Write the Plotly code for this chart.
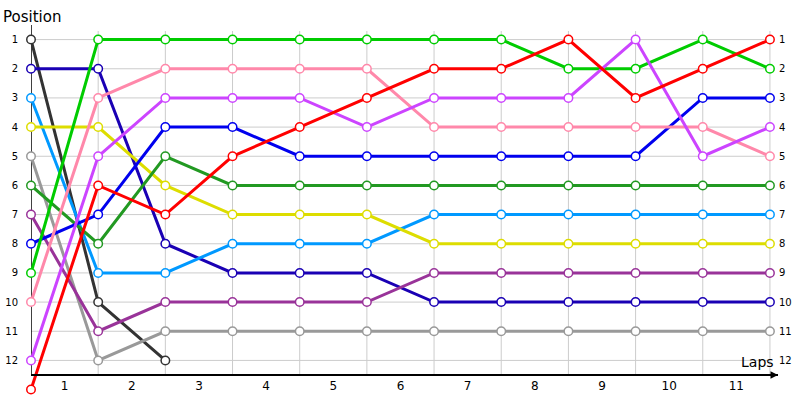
import plotly.graph_objects as go

laps = list(range(0, 12))
lap_labels = [str(i) for i in range(1, 12)]
positions = list(range(1, 13))

drivers = [
    ("A", "#333333", [1, 10, 12]),
    ("B", "#1a00b4", [2, 2, 8, 9, 9, 9, 10, 10, 10, 10, 10, 10]),
    ("C", "#0099ff", [3, 9, 9, 8, 8, 8, 7, 7, 7, 7, 7, 7]),
    ("D", "#dddd00", [4, 4, 6, 7, 7, 7, 8, 8, 8, 8, 8, 8]),
    ("E", "#999999", [5, 12, 11, 11, 11, 11, 11, 11, 11, 11, 11, 11]),
    ("F", "#229922", [6, 8, 5, 6, 6, 6, 6, 6, 6, 6, 6, 6]),
    ("G", "#993399", [7, 11, 10, 10, 10, 10, 9, 9, 9, 9, 9, 9]),
    ("H", "#0000ee", [8, 7, 4, 4, 5, 5, 5, 5, 5, 5, 3, 3]),
    ("I", "#00cc00", [9, 1, 1, 1, 1, 1, 1, 1, 2, 2, 1, 2]),
    ("J", "#ff88aa", [10, 3, 2, 2, 2, 2, 4, 4, 4, 4, 4, 5]),
    ("K", "#cc44ff", [12, 5, 3, 3, 3, 4, 3, 3, 3, 1, 5, 4]),
    ("L", "#ff0000", [13, 6, 7, 5, 4, 3, 2, 2, 1, 3, 2, 1]),
]

n_pos = len(positions)
y_top = 0.5
y_bottom = n_pos + 0.5          # where the x axis line sits
y_range_bottom = y_bottom + 25 / (350 / n_pos)  # extra room below for off-grid marker
x_max = laps[-1]
x_range_max = x_max + 0.12

fig = go.Figure()
for name, color, vals in drivers:
    fig.add_trace(go.Scatter(
        x=laps[:len(vals)], y=vals, mode="lines+markers", name=name,
        line=dict(color=color, width=3),
        marker=dict(symbol="circle", size=8.5, color="white",
                    line=dict(color=color, width=1.5)),
        cliponaxis=False, showlegend=False, hoverinfo="skip",
    ))

font = "DejaVu Sans"
plot_h = 375
fig.update_layout(
    width=800, height=400,
    margin=dict(l=31, r=22, t=25, b=0, autoexpand=False),
    plot_bgcolor="white", paper_bgcolor="white",
    font=dict(family=font, color="#000000"),
    xaxis=dict(range=[0, x_range_max], tickvals=[i + 0.5 for i in range(len(lap_labels))],
               ticktext=lap_labels, showgrid=False, zeroline=False,
               showline=True, linecolor="black", linewidth=1.5,
               anchor="free", position=25 / plot_h,
               tickfont=dict(size=12), ticks="", automargin=False),
    yaxis=dict(range=[y_range_bottom, y_top], tickvals=positions, ticktext=[str(p) for p in positions],
               showgrid=False, zeroline=False, showline=False, ticks="",
               tickfont=dict(size=10), ticklabelstandoff=12, automargin=False),
)

shapes = []
grid_top = y_top + 6 / (350 / n_pos)
for lx in laps[1:]:
    shapes.append(dict(type="line", xref="x", yref="y", x0=lx, x1=lx, y0=grid_top, y1=y_bottom,
                       line=dict(color="#cccccc", width=1), layer="below"))
for p in positions:
    shapes.append(dict(type="line", xref="x", yref="y", x0=0, x1=x_max, y0=p, y1=p,
                       line=dict(color="#cccccc", width=1), layer="below"))
shapes.append(dict(type="line", xref="x", yref="y", x0=0, x1=0, y0=y_top, y1=y_bottom,
                   line=dict(color="black", width=1.5), layer="below"))
fig.update_layout(shapes=shapes)

anns = []
for p in positions:
    anns.append(dict(x=x_max, y=p, xref="x", yref="y", text=str(p), showarrow=False,
                     xanchor="left", xshift=7, font=dict(size=10, family=font)))
anns.append(dict(x=0, y=1, xref="paper", yref="paper", text="Position", showarrow=False,
                 xanchor="left", yanchor="bottom", xshift=-30, yshift=-3,
                 font=dict(size=15, family=font)))
anns.append(dict(x=1, y=y_bottom, xref="paper", yref="y", text="Laps", showarrow=False,
                 xanchor="right", yanchor="bottom", xshift=-2, yshift=3,
                 font=dict(size=14, family=font)))
anns.append(dict(x=1, y=y_bottom, xref="paper", yref="y", text="", showarrow=True,
                 ax=-14, ay=0, arrowhead=2, arrowsize=1, arrowwidth=1.5, arrowcolor="black"))
anns.append(dict(x=0, y=1, xref="paper", yref="paper", text="", showarrow=True,
                 ax=0, ay=1, arrowhead=6, arrowsize=1, arrowwidth=1.5, arrowcolor="black"))
anns.append(dict(x=0, y=y_bottom, xref="paper", yref="y", text="", showarrow=True,
                 ax=0, ay=-1, arrowhead=6, arrowsize=0.8, arrowwidth=1.5, arrowcolor="black"))
fig.update_layout(annotations=anns)

fig.write_html("out.html", config={"displayModeBar": False},
               post_script="document.body.style.margin='0px';")
